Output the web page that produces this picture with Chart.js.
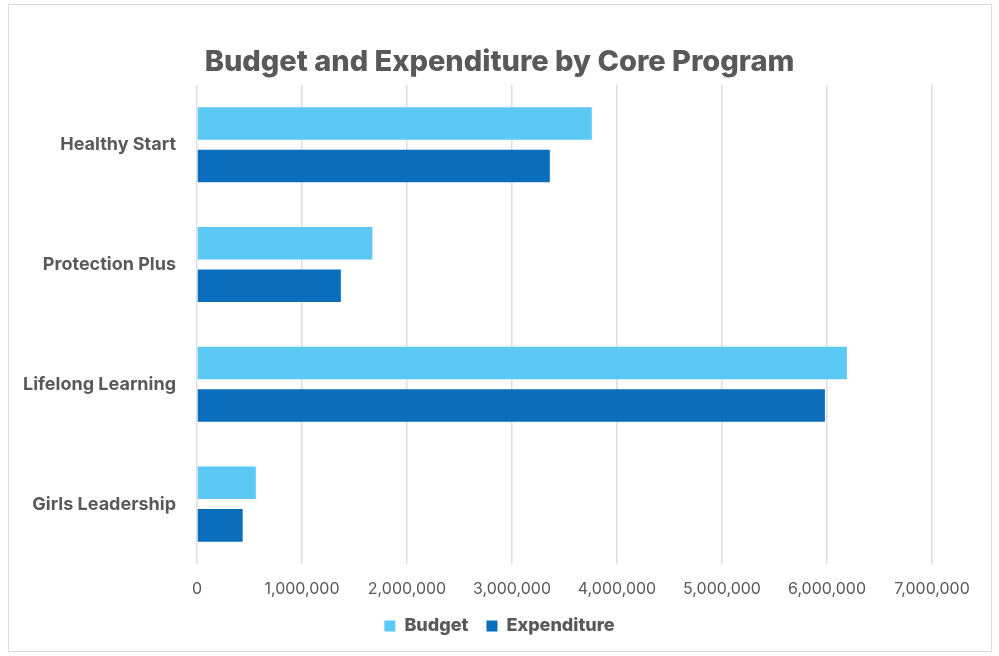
<!DOCTYPE html>
<html>
<head>
<meta charset="utf-8">
<script src="https://cdn.jsdelivr.net/npm/chart.js@4.4.1/dist/chart.umd.min.js"></script>
<style>
  html, body { margin: 0; padding: 0; background: #fff; }
  #wrap { position: relative; width: 999px; height: 656px; }
  #frame { position: absolute; left: 8px; top: 4px; width: 984px; height: 648px; border: 1px solid #d9d9d9; box-sizing: border-box; }
  canvas { position: absolute; left: 0; top: 0; }
</style>
</head>
<body>
<div id="wrap">
  <div id="frame"></div>
  <canvas id="grafico"></canvas>
</div>
<script>
// Dados do gráfico
const programas = ['Healthy Start', 'Protection Plus', 'Lifelong Learning', 'Girls Leadership'];
const orcamento = [3760000, 1670000, 6190000, 560000];
const despesa = [3360000, 1370000, 5980000, 435000];
const eixoMax = 7000000;
const eixoPasso = 1000000;

const corTexto = '#595959';
const fonte = 'Inter, "Open Sans", sans-serif';

const ctx = document.getElementById('grafico');

new Chart(ctx, {
  type: 'bar',
  data: {
    labels: programas,
    datasets: [
      { label: 'Budget', data: orcamento, backgroundColor: '#5bc9f4' },
      { label: 'Expenditure', data: despesa, backgroundColor: '#0a6ebd' }
    ]
  },
  options: {
    indexAxis: 'y',
    responsive: true,
    maintainAspectRatio: false,
    animation: false,
    categoryPercentage: 0.71,
    barPercentage: 0.765,
    layout: { padding: { left: 8, right: 8, top: 8, bottom: 11 } },
    plugins: {
      title: {
        display: true,
        text: 'Budget and Expenditure by Core Program',
        color: corTexto,
        font: { family: fonte, size: 29, weight: '800' },
        padding: { top: 37, bottom: 5 }
      },
      legend: {
        position: 'bottom',
        labels: {
          color: corTexto,
          font: { family: fonte, size: 18, weight: '800' },
          boxWidth: 11,
          boxHeight: 11,
          padding: 18
        }
      },
      tooltip: { enabled: false }
    },
    scales: {
      x: {
        min: 0,
        max: eixoMax,
        ticks: {
          stepSize: eixoPasso,
          color: corTexto,
          font: { family: fonte, size: 16 },
          padding: 16,
          callback: v => v.toLocaleString('en-US')
        },
        grid: { color: '#dedede', lineWidth: 1.5, drawTicks: false },
        border: { display: false },
        afterFit: s => { s.height = 35; }
      },
      y: {
        ticks: {
          color: corTexto,
          font: { family: fonte, size: 18, weight: '700' },
          padding: 21
        },
        grid: { display: false, drawTicks: false },
        border: { display: false },
        afterFit: s => { s.width = 189; }
      },
      // eixo vazio à direita só para reservar espaço
      yDir: {
        type: 'category',
        position: 'right',
        ticks: { display: false },
        grid: { display: false, drawTicks: false },
        border: { display: false },
        afterFit: s => { s.width = 59; }
      }
    }
  }
});
</script>
</body>
</html>
